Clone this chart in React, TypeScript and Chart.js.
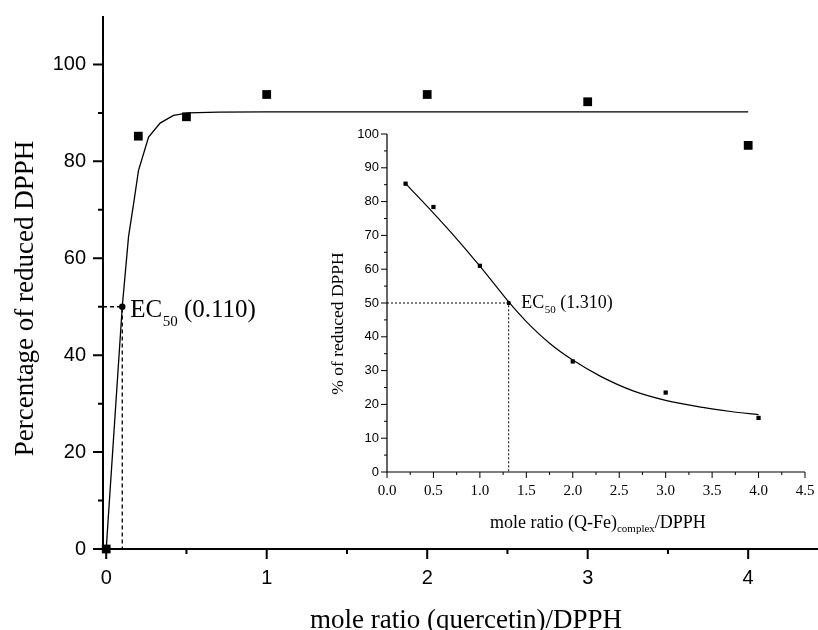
import React, { useEffect, useRef } from 'react';
import { Chart, registerables } from 'chart.js';

Chart.register(...registerables);

// ---------- main chart data ----------
const mainRatio = [0, 0.2, 0.5, 1, 2, 3, 4];
const mainReduced = [0, 85.2, 89.2, 93.8, 93.8, 92.3, 83.3];
const mainFitRatio = [0, 0.1, 0.139, 0.174, 0.201, 0.264, 0.336, 0.419, 0.513, 0.7, 1.0, 4.0];
const mainFitReduced = [0, 50, 64.4, 72, 78.1, 85.0, 87.9, 89.5, 90.0, 90.15, 90.2, 90.2];
const mainEC50 = { x: 0.1, y: 50 };
const mainEC50Text = '(0.110)';
const mainXTicks = [0, 1, 2, 3, 4];
const mainXMinor = [0.5, 1.5, 2.5, 3.5];
const mainYTicks = [0, 20, 40, 60, 80, 100];
const mainYMinor = [10, 30, 50, 70, 90];
const mainXTitle = 'mole ratio (quercetin)/DPPH';
const mainYTitle = 'Percentage of reduced DPPH';

// ---------- inset chart data ----------
const insetRatio = [0.2, 0.5, 1.0, 2.0, 3.0, 4.0];
const insetReduced = [85.3, 78.4, 61.0, 32.7, 23.5, 16.0];
const insetFitRatio = [0.2, 0.5, 0.75, 1.0, 1.15, 1.31, 1.5, 1.75, 2.0, 2.3, 2.65, 3.0, 3.4, 3.7, 4.0];
const insetFitReduced = [85.3, 76.6, 69.0, 60.9, 55.8, 50.3, 44.5, 38.1, 33.1, 28.3, 24.0, 21.2, 19.1, 17.9, 16.95];
const insetEC50 = { x: 1.31, y: 50 };
const insetEC50Text = '(1.310)';
const insetXTicks = [0, 0.5, 1.0, 1.5, 2.0, 2.5, 3.0, 3.5, 4.0, 4.5];
const insetXMinor = [0.25, 0.75, 1.25, 1.75, 2.25, 2.75, 3.25, 3.75, 4.25];
const insetYTicks = [0, 10, 20, 30, 40, 50, 60, 70, 80, 90, 100];
const insetYMinor = [5, 15, 25, 35, 45, 55, 65, 75, 85, 95];
const insetXTitleMain = 'mole ratio (Q-Fe)';
const insetXTitleSub = 'complex';
const insetXTitleEnd = '/DPPH';
const insetYTitle = '% of reduced DPPH';

const SERIF = '"Liberation Serif", "Times New Roman", serif';
const SANS = '"Liberation Sans", Arial, sans-serif';

const zip = (xs: number[], ys: number[]) => xs.map((x, i) => ({ x, y: ys[i] }));

function drawEC(ctx: CanvasRenderingContext2D, x: number, base: number, big: number, small: number, subDrop: number, text: string) {
  ctx.textAlign = 'left';
  ctx.textBaseline = 'alphabetic';
  ctx.font = `${big}px ${SERIF}`;
  ctx.fillText('EC', x, base);
  x += ctx.measureText('EC').width + 0.5;
  ctx.font = `${small}px ${SERIF}`;
  ctx.fillText('50', x, base + subDrop);
  x += ctx.measureText('50').width;
  ctx.font = `${big}px ${SERIF}`;
  ctx.fillText(' ' + text, x, base);
}

const mainDecor = {
  id: 'mainDecor',
  afterDraw(chart: any) {
    const { ctx } = chart;
    const x = chart.scales.x;
    const y = chart.scales.y;
    ctx.save();
    ctx.strokeStyle = '#000';
    ctx.fillStyle = '#000';
    ctx.lineWidth = 2;
    ctx.beginPath();
    ctx.moveTo(x.left, y.top);
    ctx.lineTo(x.left, y.bottom);
    ctx.moveTo(x.left, y.bottom);
    ctx.lineTo(x.right, y.bottom);
    for (const v of mainYTicks) {
      const p = y.getPixelForValue(v);
      ctx.moveTo(x.left - 10, p);
      ctx.lineTo(x.left, p);
    }
    for (const v of mainYMinor) {
      const p = y.getPixelForValue(v);
      ctx.moveTo(x.left - 5, p);
      ctx.lineTo(x.left, p);
    }
    for (const v of mainXTicks) {
      const p = x.getPixelForValue(v);
      ctx.moveTo(p, y.bottom);
      ctx.lineTo(p, y.bottom + 10);
    }
    for (const v of mainXMinor) {
      const p = x.getPixelForValue(v);
      ctx.moveTo(p, y.bottom);
      ctx.lineTo(p, y.bottom + 5);
    }
    ctx.stroke();

    ctx.font = `20px ${SANS}`;
    ctx.textAlign = 'right';
    ctx.textBaseline = 'middle';
    for (const v of mainYTicks) ctx.fillText(String(v), x.left - 17, y.getPixelForValue(v));
    ctx.textAlign = 'center';
    for (const v of mainXTicks) ctx.fillText(String(v), x.getPixelForValue(v), y.bottom + 29);

    ctx.font = `27px ${SERIF}`;
    ctx.textAlign = 'center';
    ctx.textBaseline = 'alphabetic';
    ctx.fillText(mainXTitle, 466, 628);
    ctx.save();
    ctx.translate(33, (y.top + y.bottom) / 2 + 16);
    ctx.rotate(-Math.PI / 2);
    ctx.fillText(mainYTitle, 0, 0);
    ctx.restore();

    drawEC(ctx, x.getPixelForValue(mainEC50.x) + 8, y.getPixelForValue(mainEC50.y) + 10, 25, 15, 9, mainEC50Text);
    ctx.restore();
  },
};

const insetDecor = {
  id: 'insetDecor',
  afterDraw(chart: any) {
    const { ctx } = chart;
    const x = chart.scales.x;
    const y = chart.scales.y;
    ctx.save();
    ctx.strokeStyle = '#000';
    ctx.fillStyle = '#000';
    ctx.lineWidth = 1.2;
    ctx.beginPath();
    ctx.moveTo(x.left, y.top);
    ctx.lineTo(x.left, y.bottom);
    ctx.lineTo(x.right, y.bottom);
    ctx.stroke();
    ctx.lineWidth = 1;
    ctx.beginPath();
    for (const v of insetYTicks) {
      const p = y.getPixelForValue(v);
      ctx.moveTo(x.left - 6, p);
      ctx.lineTo(x.left, p);
    }
    for (const v of insetYMinor) {
      const p = y.getPixelForValue(v);
      ctx.moveTo(x.left - 3, p);
      ctx.lineTo(x.left, p);
    }
    for (const v of insetXTicks) {
      const p = x.getPixelForValue(v);
      ctx.moveTo(p, y.bottom);
      ctx.lineTo(p, y.bottom + 6);
    }
    for (const v of insetXMinor) {
      const p = x.getPixelForValue(v);
      ctx.moveTo(p, y.bottom);
      ctx.lineTo(p, y.bottom + 3);
    }
    ctx.stroke();

    ctx.font = `13px ${SANS}`;
    ctx.textAlign = 'right';
    ctx.textBaseline = 'middle';
    for (const v of insetYTicks) ctx.fillText(String(v), x.left - 8, y.getPixelForValue(v));
    ctx.font = `15px ${SERIF}`;
    ctx.textAlign = 'center';
    for (const v of insetXTicks) ctx.fillText(v.toFixed(1), x.getPixelForValue(v), y.bottom + 19);

    // x title with subscript
    ctx.textAlign = 'left';
    ctx.textBaseline = 'alphabetic';
    let tx = x.left + 103;
    const tb = y.bottom + 56;
    ctx.font = `18px ${SERIF}`;
    ctx.fillText(insetXTitleMain, tx, tb);
    tx += ctx.measureText(insetXTitleMain).width;
    ctx.font = `11px ${SERIF}`;
    ctx.fillText(insetXTitleSub, tx, tb + 4);
    tx += ctx.measureText(insetXTitleSub).width;
    ctx.font = `18px ${SERIF}`;
    ctx.fillText(insetXTitleEnd, tx, tb);

    ctx.save();
    ctx.font = `17.5px ${SERIF}`;
    ctx.textAlign = 'center';
    ctx.translate(x.left - 44, (y.top + y.bottom) / 2 + 20.5);
    ctx.rotate(-Math.PI / 2);
    ctx.fillText(insetYTitle, 0, 0);
    ctx.restore();

    drawEC(ctx, x.getPixelForValue(insetEC50.x) + 12.5, y.getPixelForValue(insetEC50.y) + 5, 18, 11, 5, insetEC50Text);
    ctx.restore();
  },
};

export default function App() {
  const mainRef = useRef<HTMLCanvasElement>(null);
  const insetRef = useRef<HTMLCanvasElement>(null);

  useEffect(() => {
    document.body.style.margin = '0';
    const main = new Chart(mainRef.current as HTMLCanvasElement, {
      type: 'scatter',
      data: {
        datasets: [
          {
            data: zip([-0.02, mainEC50.x, mainEC50.x], [mainEC50.y, mainEC50.y, 0]),
            showLine: true,
            borderColor: '#000',
            borderWidth: 1.3,
            borderDash: [4, 3],
            pointRadius: 0,
          } as any,
          {
            data: zip(mainFitRatio, mainFitReduced),
            showLine: true,
            borderColor: '#000',
            borderWidth: 1.3,
            pointRadius: 0,
            tension: 0,
          },
          {
            data: zip(mainRatio, mainReduced),
            pointStyle: 'rect',
            pointRadius: 6.2,
            backgroundColor: '#000',
            borderColor: '#000',
            borderWidth: 0,
            clip: false,
          } as any,
          {
            data: [mainEC50],
            pointStyle: 'circle',
            pointRadius: 3.2,
            backgroundColor: '#000',
            borderColor: '#000',
            borderWidth: 0,
          },
        ],
      },
      options: {
        responsive: false,
        animation: false,
        devicePixelRatio: 1,
        layout: { autoPadding: false, padding: { top: 16, right: 0, left: 0, bottom: 0 } },
        plugins: { legend: { display: false }, tooltip: { enabled: false } },
        scales: {
          x: {
            type: 'linear',
            min: -0.02,
            max: 4.435,
            grid: { display: false, drawTicks: false },
            border: { display: false },
            ticks: { display: false },
            afterFit: (s: any) => { s.height = 81; },
          },
          y: {
            type: 'linear',
            min: 0,
            max: 110,
            grid: { display: false, drawTicks: false },
            border: { display: false },
            ticks: { display: false },
            afterFit: (s: any) => { s.width = 103; },
          },
        },
      } as any,
      plugins: [mainDecor],
    });

    const inset = new Chart(insetRef.current as HTMLCanvasElement, {
      type: 'scatter',
      data: {
        datasets: [
          {
            data: zip([0, insetEC50.x, insetEC50.x], [insetEC50.y, insetEC50.y, 0]),
            showLine: true,
            borderColor: '#000',
            borderWidth: 1,
            borderDash: [2, 2],
            pointRadius: 0,
          } as any,
          {
            data: zip(insetFitRatio, insetFitReduced),
            showLine: true,
            borderColor: '#000',
            borderWidth: 1.2,
            pointRadius: 0,
            cubicInterpolationMode: 'monotone',
          },
          {
            data: zip(insetRatio, insetReduced),
            pointStyle: 'rect',
            pointRadius: 3,
            backgroundColor: '#000',
            borderColor: '#000',
            borderWidth: 0,
          },
          {
            data: [insetEC50],
            pointStyle: 'circle',
            pointRadius: 2.2,
            backgroundColor: '#000',
            borderColor: '#000',
            borderWidth: 0,
          },
        ],
      },
      options: {
        responsive: false,
        animation: false,
        devicePixelRatio: 1,
        layout: { autoPadding: false, padding: { top: 24, right: 13, left: 0, bottom: 0 } },
        plugins: { legend: { display: false }, tooltip: { enabled: false } },
        scales: {
          x: {
            type: 'linear',
            min: 0,
            max: 4.5,
            grid: { display: false, drawTicks: false },
            border: { display: false },
            ticks: { display: false },
            afterFit: (s: any) => { s.height = 78; },
          },
          y: {
            type: 'linear',
            min: 0,
            max: 100,
            grid: { display: false, drawTicks: false },
            border: { display: false },
            ticks: { display: false },
            afterFit: (s: any) => { s.width = 67; },
          },
        },
      } as any,
      plugins: [insetDecor],
    });

    return () => {
      main.destroy();
      inset.destroy();
    };
  }, []);

  return (
    <div style={{ position: 'relative', width: 818, height: 630, background: '#fff', overflow: 'hidden' }}>
      <canvas ref={mainRef} width={818} height={630} style={{ position: 'absolute', left: 0, top: 0 }} />
      <canvas ref={insetRef} width={498} height={440} style={{ position: 'absolute', left: 320, top: 110 }} />
    </div>
  );
}
